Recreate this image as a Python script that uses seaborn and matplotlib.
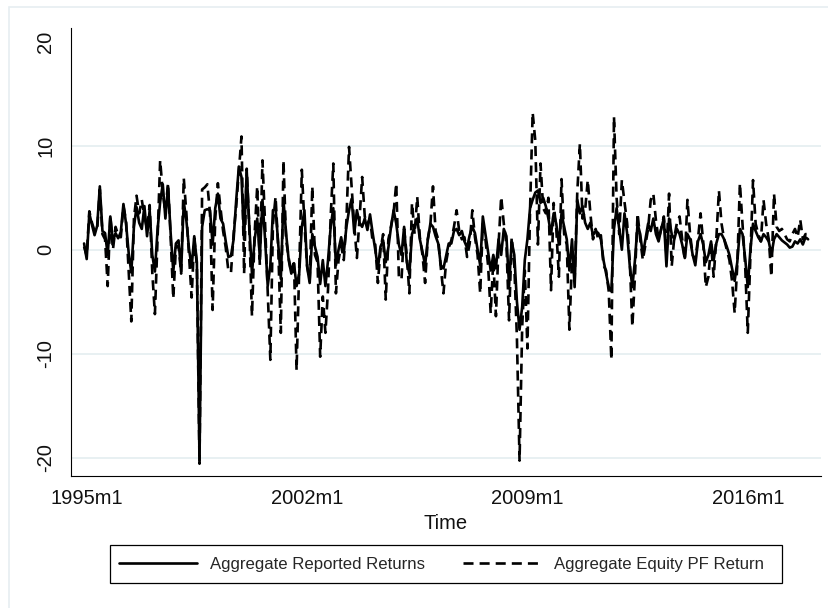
import matplotlib
matplotlib.use("Agg")
import matplotlib.pyplot as plt
import seaborn as sns
import pandas as pd
import numpy as np
from matplotlib.patches import Rectangle

# Monthly returns in percent, first observation 1994m12, last 2017m12
start = "1994m12"

reported = [
    0.6, -0.9, 3.5, 2.4, 1.4, 2.3, 6.1, 1.8, 1.6, -0.5, 3.2, 0.8, 1.6, 1.1, 1.7, 4.4,
    2.5, -0.3, -2.2, 2.2, 4.1, 2.6, 2.0, 4.2, 1.3, 3.8, -0.5, -2.1, 1.9, 4.6, 6.3,
    3.0, 6.1, 1.6, -2.1, 0.6, 0.9, -2.1, 4.6, 2.8, 0.1, -1.7, 1.3, -1.2, -20.3, 2.2,
    3.8, 3.9, 3.8, 0.5, 4.0, 5.4, 3.0, 2.5, 0.8, -0.7, -0.6, 1.0, 4.8, 8.0,
    7.0, 1.0, 7.6, 2.2, -2.3, 0.9, 3.0, -0.7, 4.8, 1.0, -3.5, -1.5, 3.8, 4.0, 0.6,
    -2.8, 4.8, 1.6, -1.0, -2.3, -1.3, -3.5, -2.3, 2.2, 3.8, -1.6, -3.2, 1.5, 0.3, -0.7, -3.3,
    -1.0, -3.5, -1.0, 2.2, 4.0, -1.5, 0.0, 1.2, -0.3, 2.2, 3.8, 4.9, 1.6, 3.8, 2.6,
    2.2, 3.0, 1.9, 3.4, 1.6, 0.0, -1.8, 0.3, 0.9, -1.2, 0.2, 2.2, 3.8, 2.5, 0.5,
    -0.5, 2.2, -1.2, -2.3, 1.5, 2.2, 3.0, 1.0, -0.2, -1.5, 0.9, 2.5, 2.2, 1.3, 0.6,
    -1.5, -1.8, -0.6, 0.6, 0.6, 1.8, 2.0, 1.4, 1.8, 0.8, 0.2, 1.4, 2.2, 1.6, 0.0, -1.5,
    3.2, 1.5, -0.2, -2.0, -0.5, -1.8, 1.0, -0.5, 2.0, 1.3, -3.5, 0.8, -0.5, -5.0, -7.7,
    -5.5, -1.0, 1.0, 4.0, 4.8, 5.5, 5.7, 4.5, 5.0, 4.2, 3.0, 1.5, 3.5, 2.5, 0.5,
    3.5, 2.2, 1.0, -2.0, 1.0, -3.6, 4.8, 3.5, 4.2, 2.6, 2.0, 2.6, 1.4, 1.8, 1.6,
    1.0, -1.0, -2.3, -3.6, -4.0, 2.0, 4.0, 2.0, 0.0, 3.5, 1.6, -1.5, -3.6, -1.0, 2.5,
    1.5, -0.5, 1.0, 2.5, 1.8, 3.0, 1.5, 0.8, 2.0, 3.0, -1.6, 3.0, 1.5, 1.0, 2.0, 1.5,
    0.5, -0.8, 1.5, 1.0, -0.5, -1.5, 0.8, 1.5, 0.5, -1.2, -0.5, 0.8, -1.0, 0.6, 1.5,
    1.5, 1.0, 0.3, -0.5, -1.8, -3.0, -1.2, 2.0, 1.5, -0.8, -3.6, 0.0, 2.5, 1.8, 1.2, 0.8,
    1.5, 1.2, 0.8, -0.5, 1.0, 1.5, 1.2, 0.9, 0.7, 0.5, 0.2, 0.3, 0.8, 0.6, 1.0, 0.5,
    1.2, 1.0,
]

equity_pf = [
    0.3, -0.6, 3.7, 2.6, 1.8, 2.0, 5.8, 1.5, 1.0, -3.5, 3.3, 0.0, 2.2, 1.4, 1.2, 4.2,
    2.8, -2.0, -6.9, 3.0, 5.2, 3.5, 4.8, 3.2, 2.0, 4.3, -2.2, -6.2, 1.0, 8.6, 5.5,
    3.6, 6.4, 1.2, -4.7, 0.2, 0.4, -2.3, 6.9, 3.5, -0.5, -4.6, 1.1, -1.5, -20.6, 5.8,
    6.0, 6.3, 3.5, -5.8, 3.0, 6.4, 4.0, 1.8, 0.2, -2.0, -2.2, 1.5, 4.2, 7.5,
    10.9, -2.3, 7.8, 2.0, -6.4, 1.5, 6.1, -1.5, 8.6, 2.5, -4.0, -10.6, 2.5, 5.1, 0.2,
    -8.0, 8.6, 1.0, -0.8, -2.3, -1.0, -11.6, -2.0, 7.7, 2.5, -1.5, -3.0, 6.1, -0.5, -1.2, -10.3,
    -4.5, -8.0, -3.8, 3.2, 8.3, -4.2, -1.0, 0.4, -1.0, 2.8, 9.9, 6.0, 2.3, -0.8, 3.0,
    7.0, 3.2, 2.5, 3.0, 0.8, 0.5, -3.2, 0.0, 1.5, -4.8, 1.0, 2.2, 3.6, 6.4, -2.6,
    -2.9, 2.0, -0.5, -4.2, 4.5, 1.5, 5.1, 1.2, -0.5, -3.2, 1.0, 2.4, 6.1, 1.8, 1.0,
    -1.8, -4.2, -1.2, 0.2, 0.9, 2.2, 3.8, 1.8, 1.0, 1.2, -0.7, 0.6, 3.8, 1.2, -0.5, -4.2,
    2.5, 1.0, -1.5, -6.1, -1.0, -6.4, 0.5, 5.1, 2.5, 0.5, -6.8, 1.2, -1.5, -8.5, -20.3,
    -7.5, -2.0, -9.5, 3.8, 13.2, 10.5, 0.5, 8.3, 4.0, 3.5, 5.0, -3.9, 4.5, 2.0, -2.6,
    6.8, 1.5, 0.5, -7.7, -1.0, -3.0, 5.5, 10.2, 3.0, 3.8, 6.7, 3.5, 1.0, 2.0, 1.0,
    1.4, -1.5, -2.0, -4.0, -10.6, 12.8, 5.0, 1.5, 6.7, 4.6, 2.6, -1.0, -7.4, -2.5, 3.5,
    1.0, -1.0, 0.5, 2.0, 4.8, 5.4, 2.8, 1.0, 2.0, 3.2, -0.5, 5.4, -1.6, 1.2, 2.6, 3.2,
    1.0, -1.0, 4.8, 1.5, -0.5, -1.0, 1.0, 3.5, 0.8, -3.6, -2.6, 0.5, -2.6, 1.0, 5.7,
    2.5, 1.0, 0.0, -1.0, -3.0, -6.1, -1.5, 6.4, 2.5, -1.5, -8.0, -0.5, 6.7, 2.5, 1.5, 0.8,
    4.8, 2.5, 1.0, -2.6, 5.4, 2.2, 1.8, 2.0, 1.5, 1.0, 0.8, 1.5, 2.0, 1.2, 2.9, 1.0,
    1.5, 1.5,
]

series_names = ["Aggregate Reported Returns", "Aggregate Equity PF Return"]
xtick_labels = ["1995m1", "2002m1", "2009m1", "2016m1"]
ytick_values = [-20, -10, 0, 10, 20]


def tm(label):
    """Stata %tm style label -> months since 1960m1"""
    year, month = label.split("m")
    return (int(year) - 1960) * 12 + int(month) - 1


months = np.arange(tm(start), tm(start) + len(reported))
df = pd.DataFrame({"Time": months,
                   series_names[0]: reported,
                   series_names[1]: equity_pf})
long_df = df.melt(id_vars="Time", var_name="series", value_name="ret")

sns.set_theme(style="white")
plt.rcParams["font.family"] = ["Liberation Sans", "DejaVu Sans"]

W, H = 829, 608
fig = plt.figure(figsize=(W / 100, H / 100), dpi=100)
ax = fig.add_axes([70.7 / W, 1 - 476 / H, 750 / W, 448 / H])

# faint outer graph-region frame
fig.patches.append(Rectangle((9.5 / W, -0.02), 1.0, 1.02 - 7.5 / H,
                             transform=fig.transFigure, fill=False,
                             edgecolor="#e6eef1", linewidth=1.2))

lw = 1.9
sns.lineplot(data=long_df, x="Time", y="ret", style="series", color="black",
             linewidth=lw, dashes={series_names[0]: "", series_names[1]: (3.8, 2.3)},
             ax=ax)

handles, labels = ax.get_legend_handles_labels()
ax.get_legend().remove()

ax.set_xlim(tm("1995m1") - 6.1, tm("1995m1") + 279.8)
ax.set_ylim(-21.78, 21.34)
ax.set_xticks([tm(s) for s in xtick_labels])
ax.set_xticklabels(xtick_labels)
ax.set_yticks(ytick_values)
ax.set_yticklabels([str(v) for v in ytick_values], rotation=90, va="center")

ax.yaxis.grid(True, color="#e8f0f2", linewidth=1.4)
ax.get_ygridlines()[-1].set_visible(False)
ax.set_axisbelow(True)

for side in ["top", "right"]:
    ax.spines[side].set_visible(False)
for side in ["left", "bottom"]:
    ax.spines[side].set_color("black")
    ax.spines[side].set_linewidth(0.8)

ax.tick_params(axis="both", direction="out", length=4, width=0.8, color="black",
               labelsize=14.5, labelcolor="#111111")
ax.tick_params(axis="x", pad=5.5)
ax.tick_params(axis="y", pad=7)
ax.set_xlabel("Time", fontsize=14.5, color="#111111", labelpad=4.5)
ax.set_ylabel("")

# legend box drawn as its own rectangle, entries placed inside it
fig.patches.append(Rectangle((110 / W, 1 - 583 / H), 672 / W, 38 / H,
                             transform=fig.transFigure, fill=False,
                             edgecolor="black", linewidth=0.9))
leg = fig.legend(handles, labels, loc="center left", ncol=2,
                 bbox_to_anchor=(110 / W, 1 - 564 / H),
                 fontsize=12.1, frameon=False,
                 handlelength=4.64, handletextpad=0.77, columnspacing=2.26,
                 borderpad=0.55, borderaxespad=0)
for h in leg.get_lines():
    h.set_linewidth(lw)

fig.savefig("out.png", dpi=100)
